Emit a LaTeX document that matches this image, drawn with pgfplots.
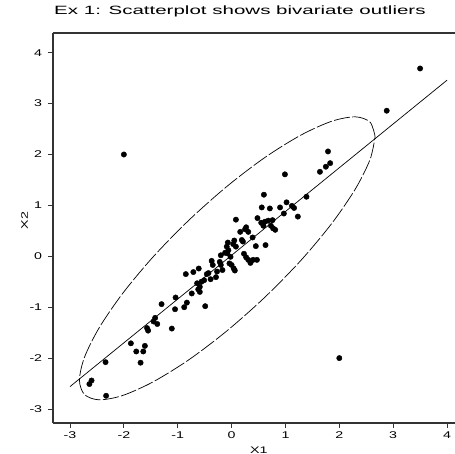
\documentclass[border=0pt]{standalone}
\usepackage{pgfplots}
\pgfplotsset{compat=1.18}
\usepackage{fontspec}
\setmainfont{Liberation Sans}
\begin{document}
\begin{tikzpicture}
\path[use as bounding box] (-53pt,-31pt) rectangle (402pt,423pt);
\begin{axis}[
  at={(0pt,0pt)}, anchor=south west,
  scale only axis, width=402pt, height=390pt,
  xmin=-3.316, xmax=4.148, ymin=-3.275, ymax=4.387,
  axis x line=box, axis y line=left,
  axis line style={black!80, line width=1.1pt, -},
  xtick={-3,-2,-1,0,1,2,3,4}, ytick={-3,-2,-1,0,1,2,3,4},
  xtick pos=bottom, ytick pos=left,
  tick align=outside, major tick length=5pt,
  tick style={black!80, line width=0.9pt},
  /pgf/number format/assume math mode=true,
  every tick label/.append style={font=\fontsize{9.8}{11}\selectfont, xscale=1.45},
  xticklabel style={yshift=-0.5pt},
  yticklabel style={xshift=-0.5pt},
  title={Ex 1: Scatterplot shows bivariate outliers},
  title style={font=\fontsize{12}{14}\selectfont, xscale=1.71, anchor=base, at={(axis description cs:0.465,1.031)}},
  xlabel={X1}, ylabel={X2},
  label style={font=\fontsize{9.5}{11}\selectfont},
  xlabel style={xscale=1.5, anchor=base, at={(axis description cs:0.512,-0.077)}},
  ylabel style={xscale=1.5, anchor=center, at={(axis description cs:-0.0709,0.519)}},
  clip=false,
]
% dashed ellipse
\addplot[black, line width=0.7pt, smooth, dash pattern=on 16pt off 2.5pt] coordinates {
(2.665,2.351) (2.571,2.636) (2.297,2.740) (1.861,2.654) (1.2925,2.384) (0.630,1.950)
(-0.080,1.379) (-0.790,0.712) (-1.4525,-0.006) (-2.021,-0.727) (-2.457,-1.401) (-2.731,-1.982)
(-2.825,-2.431) (-2.731,-2.716) (-2.457,-2.820) (-2.021,-2.734) (-1.4525,-2.464) (-0.790,-2.030)
(-0.080,-1.459) (0.630,-0.792) (1.2925,-0.074) (1.861,0.647) (2.297,1.321) (2.571,1.902)
(2.665,2.351)
};
% regression line
\addplot[black, line width=0.7pt] coordinates {(-3,-2.56) (4,3.46)};
% points
\addplot[only marks, mark=*, mark size=2.7pt, black] coordinates {
(-2.0,2.0) (2.0,-2.0) (3.50,3.69) (2.88,2.86)
(1.79,2.06) (1.83,1.83) (1.75,1.76) (1.64,1.66) (0.99,1.61) (0.60,1.21)
(1.02,1.06) (1.12,0.99) (1.16,0.95) (1.39,1.17) (0.56,0.96) (0.71,0.94)
(0.90,0.96) (0.97,0.84) (1.23,0.78) (0.08,0.72) (0.48,0.75)
(0.55,0.66) (0.62,0.68) (0.68,0.70) (0.76,0.71) (0.59,0.60) (0.73,0.60)
(0.77,0.55) (0.81,0.52) (0.27,0.57) (0.16,0.48) (0.31,0.48) (0.25,0.53)
(0.39,0.37) (0.19,0.32) (0.21,0.29) (0.05,0.31) (0.03,0.24) (-0.07,0.27)
(-0.09,0.19) (-0.06,0.12) (-0.08,0.06) (-0.12,0.07) (0.45,0.20) (0.63,0.22)
(0.08,0.19) (-0.20,0.02) (-0.02,-0.01) (-0.04,-0.14) (0.00,-0.17) (0.04,-0.24)
(0.23,0.05) (0.27,-0.02) (0.31,-0.07) (0.40,-0.07) (0.47,-0.07) (0.35,-0.13)
(0.06,-0.28) (-0.37,-0.09) (-0.35,-0.17) (-0.22,-0.11) (-0.20,-0.17) (-0.27,-0.30)
(-0.17,-0.27) (-0.61,-0.24) (-0.71,-0.31) (-0.85,-0.35) (-0.46,-0.35) (-0.43,-0.33)
(-0.29,-0.41) (-0.39,-0.45) (-0.51,-0.47) (-0.56,-0.50) (-0.64,-0.53) (-0.59,-0.60)
(-0.62,-0.65) (-0.59,-0.70) (-0.74,-0.73) (-0.49,-0.98) (-1.04,-0.81) (-0.83,-0.91)
(-0.88,-1.00) (-1.05,-1.04) (-1.30,-0.94) (-1.42,-1.21) (-1.45,-1.28) (-1.38,-1.33)
(-1.57,-1.41) (-1.55,-1.46) (-1.11,-1.42) (-1.87,-1.71) (-1.61,-1.76) (-1.77,-1.87)
(-1.64,-1.87) (-1.69,-2.09) (-2.34,-2.08) (-2.60,-2.44) (-2.64,-2.51) (-2.33,-2.74)
};
\end{axis}
\end{tikzpicture}
\end{document}
